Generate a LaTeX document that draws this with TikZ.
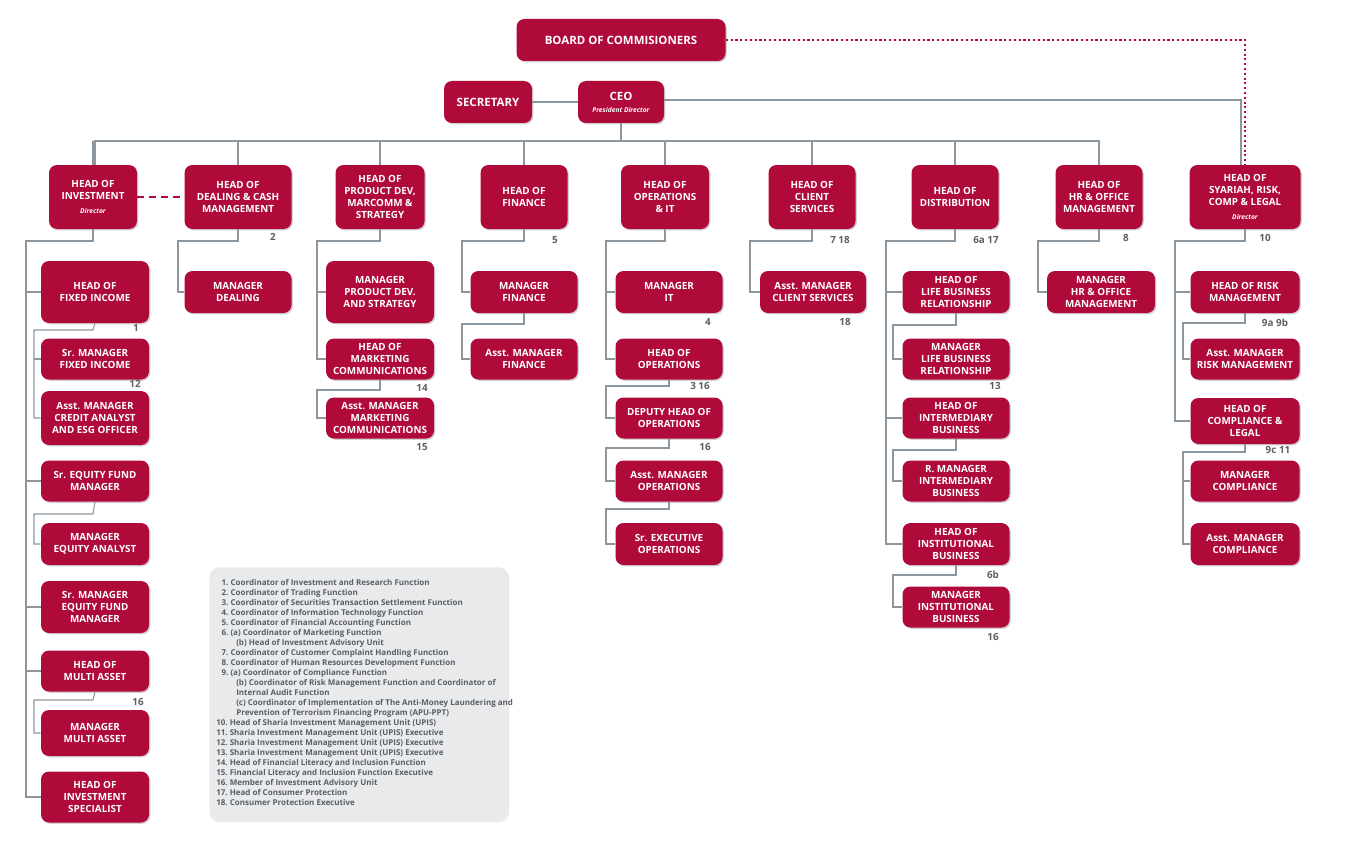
\documentclass[tikz,border=0pt]{standalone}
\usepackage{fontspec}
\setmainfont{Open Sans}
\usetikzlibrary{shadows}
\definecolor{brd}{HTML}{B00A3A}
\definecolor{lnc}{HTML}{8C969E}
\definecolor{txg}{HTML}{5A5F64}
\definecolor{lg}{HTML}{E9EAEB}
\tikzset{
 bx/.style={fill=brd,rounded corners=6pt,text=white,align=center,inner sep=1pt,
   font=\fontsize{7.4}{9}\selectfont\bfseries,
   drop shadow={shadow xshift=1pt,shadow yshift=-1pt,fill=black!35,opacity=.5}},
 w/.style={minimum width=#1*0.75pt},
 h/.style={minimum height=#1*0.75pt},
 ln/.style={draw=lnc,line width=0.8pt},
 num/.style={text=txg,font=\fontsize{7.4}{9}\selectfont\bfseries,inner sep=0pt},
}
\newcommand{\dirl}[1]{\\[2pt]{\fontsize{5}{6}\selectfont\itshape #1}}
\begin{document}
\begin{tikzpicture}[x=0.75pt,y=-0.75pt]
\useasboundingbox (0,0) rectangle (1350,842);
% legend
\node[fill=lg,rounded corners=8pt,minimum width=300*0.75pt,minimum height=255*0.75pt,anchor=north west] (leg) at (209,567) {};
\node[anchor=north west,text=txg,align=left,inner sep=0pt,font=\fontsize{6}{7.5}\selectfont\bfseries] (legt) at (216,579) {%
\hspace*{4pt}1.\ Coordinator of Investment and Research Function\\
\hspace*{4pt}2.\ Coordinator of Trading Function\\
\hspace*{4pt}3.\ Coordinator of Securities Transaction Settlement Function\\
\hspace*{4pt}4.\ Coordinator of Information Technology Function\\
\hspace*{4pt}5.\ Coordinator of Financial Accounting Function\\
\hspace*{4pt}6.\ (a) Coordinator of Marketing Function\\
\hspace*{15pt}(b) Head of Investment Advisory Unit\\
\hspace*{4pt}7.\ Coordinator of Customer Complaint Handling Function\\
\hspace*{4pt}8.\ Coordinator of Human Resources Development Function\\
\hspace*{4pt}9.\ (a) Coordinator of Compliance Function\\
\hspace*{15pt}(b) Coordinator of Risk Management Function and Coordinator of\\
\hspace*{15pt}Internal Audit Function\\
\hspace*{15pt}(c) Coordinator of Implementation of The Anti-Money Laundering and\\
\hspace*{15pt}Prevention of Terrorism Financing Program (APU-PPT)\\
10.\ Head of Sharia Investment Management Unit (UPIS)\\
11.\ Sharia Investment Management Unit (UPIS) Executive\\
12.\ Sharia Investment Management Unit (UPIS) Executive\\
13.\ Sharia Investment Management Unit (UPIS) Executive\\
14.\ Head of Financial Literacy and Inclusion Function\\
15.\ Financial Literacy and Inclusion Function Executive\\
16.\ Member of Investment Advisory Unit\\
17.\ Head of Consumer Protection\\
18.\ Consumer Protection Executive};
% top
\node[bx,w=209,h=42,font=\fontsize{8.6}{10}\selectfont\bfseries] (board) at (621,40) {BOARD OF COMMISIONERS};
\node[bx,w=88,h=42,font=\fontsize{8.6}{10}\selectfont\bfseries] (sec) at (488,102) {SECRETARY};
\node[bx,w=86,h=42,font=\fontsize{8.6}{10}\selectfont\bfseries] (ceo) at (621,102) {CEO\\[-1pt]{\fontsize{5}{6}\selectfont\itshape President Director}};
% level 2
\node[bx,w=88,h=64] (inv) at (93,197) {HEAD OF\\INVESTMENT\dirl{Director}};
\node[bx,w=107,h=64] (deal) at (238,197) {HEAD OF\\DEALING \& CASH\\MANAGEMENT};
\node[bx,w=89,h=64] (prod) at (380,197) {HEAD OF\\PRODUCT DEV,\\MARCOMM \&\\STRATEGY};
\node[bx,w=87,h=64] (fin) at (524,197) {HEAD OF\\FINANCE};
\node[bx,w=88,h=64] (ops) at (665,197) {HEAD OF\\OPERATIONS\\\& IT};
\node[bx,w=87,h=64] (cli) at (812,197) {HEAD OF\\CLIENT\\SERVICES};
\node[bx,w=87,h=64] (dis) at (955,197) {HEAD OF\\DISTRIBUTION};
\node[bx,w=87,h=64] (hr) at (1099,197) {HEAD OF\\HR \& OFFICE\\MANAGEMENT};
\node[bx,w=111,h=64] (sya) at (1245,197) {HEAD OF\\SYARIAH, RISK,\\COMP \& LEGAL\dirl{Director}};
% investment children
\node[bx,w=108,h=62] (fi) at (95,292) {HEAD OF\\FIXED INCOME};
\node[bx,w=108,h=41] (smfi) at (95,359) {Sr. MANAGER\\FIXED INCOME};
\node[bx,w=108,h=54] (amca) at (95,418) {Asst. MANAGER\\CREDIT ANALYST\\AND ESG OFFICER};
\node[bx,w=108,h=41] (sefm) at (95,481) {Sr. EQUITY FUND\\MANAGER};
\node[bx,w=108,h=42] (mea) at (95,544) {MANAGER\\EQUITY ANALYST};
\node[bx,w=108,h=52] (smef) at (95,607) {Sr. MANAGER\\EQUITY FUND\\MANAGER};
\node[bx,w=108,h=41] (hma) at (95,671) {HEAD OF\\MULTI ASSET};
\node[bx,w=108,h=46] (mma) at (95,733) {MANAGER\\MULTI ASSET};
\node[bx,w=108,h=51] (his) at (95,797) {HEAD OF\\INVESTMENT\\SPECIALIST};
% dealing
\node[bx,w=107,h=42] (md) at (238,292) {MANAGER\\DEALING};
% product
\node[bx,w=108,h=62] (mpd) at (380,292) {MANAGER\\PRODUCT DEV.\\AND STRATEGY};
\node[bx,w=108,h=41] (hmc) at (380,359) {HEAD OF\\MARKETING\\COMMUNICATIONS};
\node[bx,w=108,h=41] (amc) at (380,418) {Asst. MANAGER\\MARKETING\\COMMUNICATIONS};
% finance
\node[bx,w=107,h=42] (mf) at (524,292) {MANAGER\\FINANCE};
\node[bx,w=107,h=41] (amf) at (524,359) {Asst. MANAGER\\FINANCE};
% operations
\node[bx,w=107,h=42] (mit) at (669,292) {MANAGER\\IT};
\node[bx,w=107,h=41] (hop) at (669,359) {HEAD OF\\OPERATIONS};
\node[bx,w=107,h=41] (dho) at (669,418) {DEPUTY HEAD OF\\OPERATIONS};
\node[bx,w=107,h=41] (amo) at (669,481) {Asst. MANAGER\\OPERATIONS};
\node[bx,w=107,h=42] (seo) at (669,544) {Sr. EXECUTIVE\\OPERATIONS};
% client
\node[bx,w=106,h=42] (amcs) at (813,292) {Asst. MANAGER\\CLIENT SERVICES};
% distribution
\node[bx,w=107,h=42] (hlb) at (956,292) {HEAD OF\\LIFE BUSINESS\\RELATIONSHIP};
\node[bx,w=107,h=41] (mlb) at (956,359) {MANAGER\\LIFE BUSINESS\\RELATIONSHIP};
\node[bx,w=107,h=41] (hib) at (956,418) {HEAD OF\\INTERMEDIARY\\BUSINESS};
\node[bx,w=107,h=41] (rmi) at (956,481) {R. MANAGER\\INTERMEDIARY\\BUSINESS};
\node[bx,w=107,h=42] (hinst) at (956,544) {HEAD OF\\INSTITUTIONAL\\BUSINESS};
\node[bx,w=107,h=41] (minst) at (956,607) {MANAGER\\INSTITUTIONAL\\BUSINESS};
% HR
\node[bx,w=108,h=42] (mhr) at (1101,292) {MANAGER\\HR \& OFFICE\\MANAGEMENT};
% syariah
\node[bx,w=109,h=42] (hrm) at (1245,292) {HEAD OF RISK\\MANAGEMENT};
\node[bx,w=109,h=41] (amrm) at (1245,359) {Asst. MANAGER\\RISK MANAGEMENT};
\node[bx,w=109,h=46] (hcl) at (1245,421) {HEAD OF\\COMPLIANCE \&\\LEGAL};
\node[bx,w=109,h=41] (mc) at (1245,481) {MANAGER\\COMPLIANCE};
\node[bx,w=109,h=42] (amcp) at (1245,544) {Asst. MANAGER\\COMPLIANCE};
% numbers
\node[num] (n2) at (273,237) {2};
\node[num] (n5) at (555,240) {5};
\node[num] (n718) at (840,240) {7 18};
\node[num] (n6a) at (986,240) {6a 17};
\node[num] (n8) at (1126,238) {8};
\node[num] (n10) at (1265,238) {10};
\node[num] (n1) at (136,328) {1};
\node[num] (n12) at (135,384) {12};
\node[num] (n16a) at (138,702) {16};
\node[num] (n14) at (422,388) {14};
\node[num] (n15) at (422,447) {15};
\node[num] (n4) at (708,322) {4};
\node[num] (n316) at (700,386) {3 16};
\node[num] (n16b) at (705,447) {16};
\node[num] (n18) at (845,322) {18};
\node[num] (n13) at (995,386) {13};
\node[num] (n6b) at (993,575) {6b};
\node[num] (n16c) at (993,637) {16};
\node[num] (n9a) at (1275,323) {9a 9b};
\node[num] (n9c) at (1278,450) {9c 11};
% top connectors
\draw[ln] (sec.east) -- (ceo.west);
\draw[ln] (ceo.south) -- (621,141);
\draw[ln] (95,165) |- (1099,141) -- (hr.north);
\foreach \n/\x in {deal/238,prod/380,fin/524,ops/665,cli/812,dis/955}{\draw[ln] (\x,141) -- (\n.north);}
\draw[ln] (inv.north) -- (93,141);
\draw[ln] (ceo.east) ++(0,-2) -| (1241,165);
\draw[brd,line width=1.6pt,dotted] (board.east) -| (sya.north);
\draw[brd,line width=1.3pt,dash pattern=on 5pt off 4pt] (inv.east) -- (deal.west);
% investment
\draw[ln] (inv.south) |- (26,241) -- (26,797) -- (his.west);
\foreach \n in {fi,sefm,smef,hma}{\draw[ln] (26,0 |- \n.west) -- (\n.west);}
\draw[ln] (fi.south) -- (93,330) -| (34,418) -- (amca.west);
\draw[ln] (34,359) -- (smfi.west);
\draw[ln] (sefm.south) -- (93,514) -| (34,544) -- (mea.west);
\draw[ln] (hma.south) -- (93,700) -| (34,733) -- (mma.west);
% dealing
\draw[ln] (deal.south) |- (178,241) |- (md.west);
% product
\draw[ln] (prod.south) |- (317,241) |- (hmc.west);
\draw[ln] (317,292) -- (mpd.west);
\draw[ln] (hmc.south) -- (380,390) -| (317,418) -- (amc.west);
% finance
\draw[ln] (fin.south) |- (462,241) |- (mf.west);
\draw[ln] (mf.south) -- (524,324) -| (462,359) -- (amf.west);
% ops
\draw[ln] (ops.south) |- (606,241) |- (hop.west);
\draw[ln] (606,292) -- (mit.west);
\draw[ln] (hop.south) -- (669,386) -| (606,418) -- (dho.west);
\draw[ln] (dho.south) -- (669,448) -| (606,481) -- (amo.west);
\draw[ln] (amo.south) -- (669,509) -| (606,544) -- (seo.west);
% client
\draw[ln] (cli.south) |- (750,241) |- (amcs.west);
% distribution
\draw[ln] (dis.south) |- (886,241) |- (hinst.west);
\draw[ln] (886,292) -- (hlb.west);
\draw[ln] (886,418) -- (hib.west);
\draw[ln] (hlb.south) -- (956,325) -| (893,359) -- (mlb.west);
\draw[ln] (hib.south) -- (956,450) -| (893,481) -- (rmi.west);
\draw[ln] (hinst.south) -- (956,575) -| (893,607) -- (minst.west);
% HR
\draw[ln] (hr.south) |- (1038,241) |- (mhr.west);
% syariah
\draw[ln] (sya.south) |- (1175,241) |- (hcl.west);
\draw[ln] (1175,292) -- (hrm.west);
\draw[ln] (hrm.south) -- (1245,323) -| (1183,359) -- (amrm.west);
\draw[ln] (hcl.south) -- (1245,452) -| (1183,544) -- (amcp.west);
\draw[ln] (1183,481) -- (mc.west);
\end{tikzpicture}
\end{document}
